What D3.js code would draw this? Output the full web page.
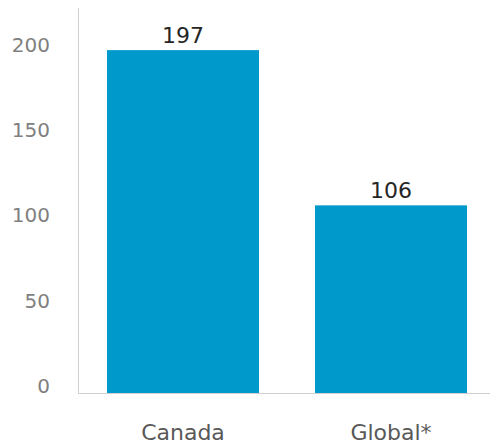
<!DOCTYPE html>
<html>
<head>
<meta charset="utf-8">
<script src="https://cdn.jsdelivr.net/npm/d3@7"></script>
<style>
  html, body { margin: 0; padding: 0; background: #fff; }
  text { font-family: "Century Gothic", "URW Gothic", "DejaVu Sans", sans-serif; }
</style>
</head>
<body>
<svg id="chart" width="490" height="447"></svg>
<script>
const categories = ["Canada", "Global*"];
const values = [197, 106];
const valueLabels = ["197", "106"];
const tickValues = [0, 50, 100, 150, 200];

const svg = d3.select("#chart");
const axisX = 78, baseY = 393;

const x = d3.scaleBand()
  .domain(categories)
  .range([axisX, 496])
  .paddingInner(56 / 208)
  .paddingOuter(29 / 208);

const y = d3.scaleLinear().domain([-4, 200]).range([baseY, 45]);

// bars
svg.selectAll("rect.bar")
  .data(categories)
  .join("rect")
  .attr("class", "bar")
  .attr("x", d => x(d))
  .attr("width", x.bandwidth())
  .attr("y", (d, i) => y(values[i]))
  .attr("height", (d, i) => baseY - y(values[i]))
  .attr("fill", "#0099CC");

// y axis
const yAxis = d3.axisLeft(y).tickValues(tickValues).tickSize(0).tickPadding(28).tickFormat(d3.format("d"));
const gy = svg.append("g").attr("transform", `translate(${axisX},0)`).call(yAxis);
gy.select(".domain").remove();
gy.selectAll("text").attr("fill", "#808080").style("font-size", "20px");
svg.append("line")
  .attr("x1", axisX + 0.5).attr("x2", axisX + 0.5)
  .attr("y1", 8).attr("y2", baseY)
  .attr("stroke", "#d0d0d0").attr("stroke-width", 1);

// x baseline + labels
const xAxis = d3.axisBottom(x).tickSize(0).tickPadding(31);
const gx = svg.append("g").attr("transform", `translate(0,${baseY})`).call(xAxis);
gx.select(".domain").remove();
gx.selectAll("text").attr("fill", "#595959").style("font-size", "22px");
svg.append("line")
  .attr("x1", axisX).attr("x2", 490)
  .attr("y1", baseY + 0.5).attr("y2", baseY + 0.5)
  .attr("stroke", "#d0d0d0").attr("stroke-width", 1);

// data labels
svg.selectAll("text.val")
  .data(categories)
  .join("text")
  .attr("class", "val")
  .attr("x", d => x(d) + x.bandwidth() / 2)
  .attr("y", (d, i) => y(values[i]) - 7)
  .attr("text-anchor", "middle")
  .attr("fill", "#262626")
  .style("font-size", "22px")
  .text((d, i) => valueLabels[i]);
</script>
</body>
</html>
